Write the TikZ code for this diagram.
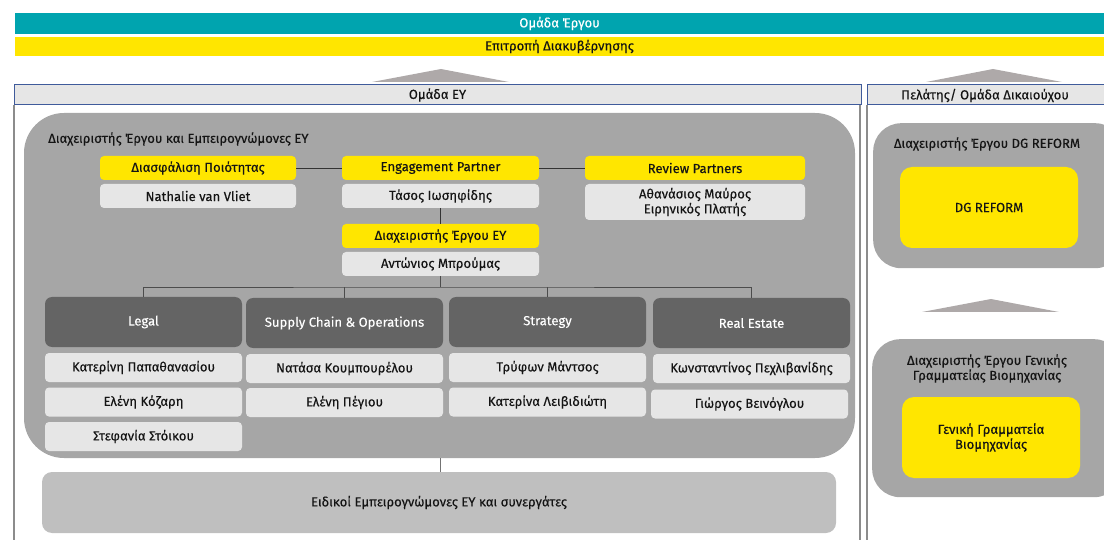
\documentclass[tikz,border=0pt]{standalone}
\usepackage{fontspec}
\setmainfont{Fira Sans}[FakeBold=0.25]
\definecolor{teal1}{HTML}{00A4AF}
\definecolor{eyyel}{HTML}{FFE600}
\definecolor{biggray}{HTML}{A6A6A6}
\definecolor{catgray}{HTML}{646464}
\definecolor{namegray}{HTML}{E6E6E6}
\definecolor{spgray}{HTML}{BFBFBF}
\definecolor{trigray}{HTML}{AEA9A9}
\definecolor{hdrblue}{HTML}{3F5B9B}
\definecolor{sidegray}{HTML}{8C8C8C}
\definecolor{txt}{HTML}{141414}
\begin{document}
\begin{tikzpicture}[x=1pt,y=-1pt,
  every node/.style={font=\fontsize{13.1}{15}\selectfont, text=txt, inner sep=0pt, align=center},
  bar/.style={rectangle, minimum width=1089pt},
  hdr/.style={rectangle, fill=namegray, draw=hdrblue, line width=1pt, minimum height=20pt},
  ybox/.style={rectangle, fill=eyyel, rounded corners=4pt, minimum height=24pt},
  nbox/.style={rectangle, fill=namegray, rounded corners=4pt},
  cat/.style={rectangle, fill=catgray, rounded corners=7pt, minimum width=197pt, minimum height=50pt, text=white},
  nm/.style={nbox, minimum width=197pt, minimum height=29pt},
  tri/.style={fill=trigray},
  conn/.style={draw=black!80, line width=0.9pt},
  side/.style={draw=sidegray, line width=1.2pt}
]
\useasboundingbox (0,0) rectangle (1104,540);

% top bars
\node[bar, fill=teal1, minimum height=21pt, text=white] (team) at (559.5,23.5) {Ομάδα Έργου};
\node[bar, fill=eyyel, minimum height=19pt] (gov) at (559.5,46.5) {Επιτροπή Διακυβέρνησης};

% triangles
\fill[tri] (372,82) -- (441,69) -- (509,82) -- cycle;
\fill[tri] (926,82) -- (993,69) -- (1062,82) -- cycle;
\fill[tri] (922,312) -- (991,299) -- (1059,312) -- cycle;

% panels
\draw[side] (14,105) -- (14,541);
\draw[side] (860,105) -- (860,541);
\draw[side] (867,105) -- (867,541);
\node[hdr, minimum width=847pt] (eyhdr) at (437.5,95) {Ομάδα ΕΥ};
\node[hdr, minimum width=240pt, anchor=west] (clhdr) at (867,95) {};
\node at (985,95.5) {Πελάτης/ Ομάδα Δικαιούχου};

% big EY box
\node[rectangle, fill=biggray, rounded corners=40pt, minimum width=831pt, minimum height=345pt] (ey) at (439.5,285.5) {};
\node[anchor=west] (eytitle) at (48,139) {Διαχειριστής Έργου και Εμπειρογνώμονες ΕΥ};

\node[ybox, minimum width=196pt] (dq) at (198,168) {Διασφάλιση Ποιότητας};
\node[nbox, minimum width=196pt, minimum height=24pt] (nv) at (198,196) {Nathalie van Vliet};
\node[ybox, minimum width=197pt] (ep) at (440.5,168) {Engagement Partner};
\node[nbox, minimum width=197pt, minimum height=24pt] (tas) at (440.5,196) {Τάσος Ιωσηφίδης};
\node[ybox, minimum width=220pt] (rp) at (695,168) {Review Partners};
\node[nbox, minimum width=220pt, minimum height=36pt] (rpn) at (695,202) {Αθανάσιος Μαύρος\\Ειρηνικός Πλατής};
\node[ybox, minimum width=197pt] (pm) at (440.5,236) {Διαχειριστής Έργου ΕΥ};
\node[nbox, minimum width=197pt, minimum height=24pt] (ant) at (440.5,264) {Αντώνιος Μπρούμας};

\draw[conn] (dq.east) -- (ep.west);
\draw[conn] (ep.east) -- (rp.west);
\draw[conn] (tas.south) -- (pm.north);

% categories
\node[cat] (legal) at (143.5,322) {Legal};
\node[cat] (sco) at (344.5,323) {Supply Chain \& Operations};
\node[cat] (str) at (547.5,322) {Strategy};
\node[cat] (re) at (751.5,323) {Real Estate};

\coordinate (tj) at (440.5,287);
\draw[conn, draw=black!70] (ant.south) -- (tj);
\draw[conn, draw=black!70] (legal.north) |- (tj) -| (re.north);
\draw[conn, draw=black!70] (sco.north) -- (sco.north |- tj);
\draw[conn, draw=black!70] (str.north) -- (str.north |- tj);

% names
\node[nm] (l1) at (143.5,367.5) {Κατερίνη Παπαθανασίου};
\node[nm] (l2) at (143.5,402) {Ελένη Κόζαρη};
\node[nm] (l3) at (143.5,436.5) {Στεφανία Στόικου};
\node[nm] (s1) at (344.5,368.5) {Νατάσα Κουμπουρέλου};
\node[nm] (s2) at (344.5,402.5) {Ελένη Πέγιου};
\node[nm] (t1) at (547.5,367.5) {Τρύφων Μάντσος};
\node[nm] (t2) at (547.5,402) {Κατερίνα Λειβιδιώτη};
\node[nm] (r1) at (751.5,368.5) {Κωνσταντίνος Πεχλιβανίδης};
\node[nm] (r2) at (749.5,404) {Γιώργος Βεινόγλου};

% specialists
\node[rectangle, fill=spgray, rounded corners=10pt, minimum width=794pt, minimum height=61pt] (sp) at (439,502.5) {Ειδικοί Εμπειρογνώμονες ΕΥ και συνεργάτες};
\draw[conn, draw=black!55] (ey.south -| tj) -- (sp.north -| tj);

% client side
\node[rectangle, fill=biggray, rounded corners=28pt, minimum width=250pt, minimum height=145pt, anchor=north west] (dgb) at (873,123) {};
\node (dgtitle) at (987,144) {Διαχειριστής Έργου DG REFORM};
\node[rectangle, fill=eyyel, rounded corners=12pt, minimum width=178pt, minimum height=81pt] (dg) at (989,207.5) {DG REFORM};

\node[rectangle, fill=biggray, rounded corners=28pt, minimum width=250pt, minimum height=158pt, anchor=north west] (ggb) at (872,339) {};
\node (ggtitle) at (987,368.5) {Διαχειριστής Έργου Γενικής\\Γραμματείας Βιομηχανίας};
\node[rectangle, fill=eyyel, rounded corners=12pt, minimum width=178pt, minimum height=81pt] (gg) at (991,437.5) {Γενική Γραμματεία\\Βιομηχανίας};
\end{tikzpicture}
\end{document}
